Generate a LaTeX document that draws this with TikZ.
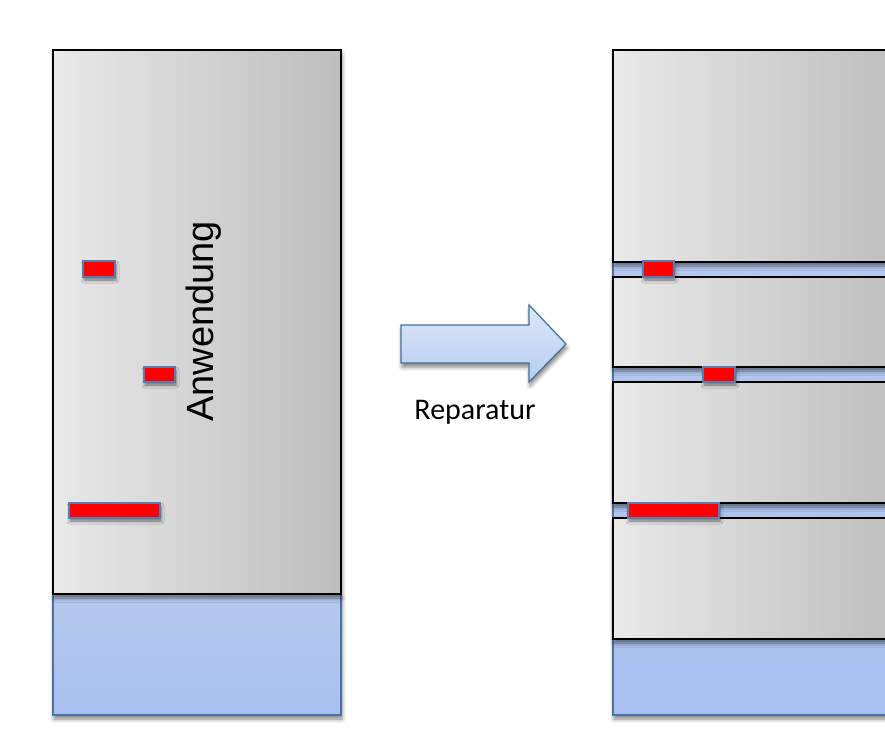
\documentclass[tikz,border=0pt]{standalone}
\usepackage{fontspec}
\newfontfamily\labelfont{Liberation Sans}
\newfontfamily\capfont{Carlito}
\usetikzlibrary{shadows.blur}
\definecolor{grayL}{HTML}{E9E9E9}
\definecolor{grayR}{HTML}{BDBDBD}
\definecolor{baseT}{HTML}{B5C8EF}
\definecolor{baseB}{HTML}{A8C0EE}
\definecolor{baseline}{HTML}{4A72A8}
\definecolor{arrowT}{HTML}{DDE7F8}
\definecolor{arrowB}{HTML}{B8CCEF}
\definecolor{arrowline}{HTML}{41719C}
\definecolor{patchline}{HTML}{5B7BB0}
\tikzset{
  softshadow/.style={blur shadow={shadow xshift=1pt, shadow yshift=-4pt,
      shadow blur radius=4pt, shadow opacity=50}},
  layer/.style={left color=grayL, right color=grayR, draw=black,
      line width=1.8pt, softshadow},
  base/.style={top color=baseT, bottom color=baseB, draw=baseline,
      line width=1.4pt, softshadow},
  patch/.style={fill=red, draw=patchline, line width=1.4pt,
      blur shadow={shadow xshift=1pt, shadow yshift=-3pt,
      shadow blur radius=3pt, shadow opacity=50}},
}
\begin{document}
\begin{tikzpicture}[x=1pt, y=-1pt]
  \useasboundingbox (0,0) rectangle (885,742);
  \clip (0,0) rectangle (885,742);

  % original program on its platform
  \path[base]  (53,594) rectangle (341,715);
  \path[layer] (53,50)  rectangle (341,594);
  \path[patch] (83,261)  rectangle (115,277);
  \path[patch] (144,367) rectangle (175,382);
  \path[patch] (69,503)  rectangle (160,518);
  \node[font=\labelfont\fontsize{38}{38}\selectfont, rotate=90, anchor=base,
        inner sep=0pt] (app) at (213,321.5) {Anwendung};

  % repair arrow
  \path[top color=arrowT, bottom color=arrowB, draw=arrowline, line width=1.2pt,
        softshadow]
    (401,325) -- (529,325) -- (529,305) -- (566,344) -- (529,382)
    -- (529,363) -- (401,363) -- cycle;
  \node[font=\capfont\fontsize{30}{30}\selectfont, inner sep=0pt]
    (rep) at (475,412) {Reparatur};

  % repaired program, split into separate layers
  \path[base]  (613,255) rectangle (901,715);
  \path[layer] (613,50)  rectangle (901,262);
  \path[layer] (613,277) rectangle (901,367);
  \path[layer] (613,382) rectangle (901,503);
  \path[layer] (613,518) rectangle (901,639);
  \path[patch] (643,261) rectangle (674,277);
  \path[patch] (703,367) rectangle (735,382);
  \path[patch] (628,503) rectangle (719,518);
\end{tikzpicture}
\end{document}
